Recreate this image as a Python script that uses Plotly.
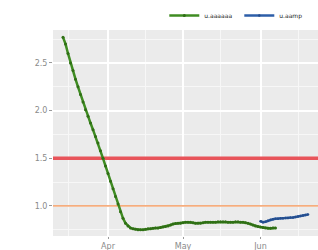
import plotly.graph_objects as go
import pandas as pd

# Green series (daily), starting 2020-03-14
green_start = "2020-03-14"
green_values = [
    2.77, 2.70, 2.60, 2.50, 2.42, 2.33, 2.25, 2.17, 2.09, 2.01,
    1.94, 1.87, 1.80, 1.73, 1.66, 1.58, 1.50, 1.42, 1.34, 1.26,
    1.18, 1.10, 1.02, 0.94, 0.87, 0.82, 0.79, 0.77, 0.76, 0.755,
    0.75, 0.75, 0.75, 0.755, 0.76, 0.76, 0.765, 0.77, 0.77, 0.775,
    0.78, 0.785, 0.79, 0.80, 0.81, 0.815, 0.82, 0.82, 0.825, 0.83,
    0.83, 0.83, 0.825, 0.82, 0.82, 0.82, 0.825, 0.83, 0.83, 0.83,
    0.83, 0.83, 0.835, 0.835, 0.835, 0.835, 0.83, 0.83, 0.83, 0.835,
    0.835, 0.83, 0.83, 0.825, 0.82, 0.81, 0.80, 0.79, 0.785, 0.78,
    0.775, 0.77, 0.765, 0.765, 0.77, 0.77,
]
green_name = "u.aaaaaa"

# Blue series (daily), starting 2020-06-01
blue_start = "2020-06-01"
blue_values = [
    0.84, 0.83, 0.835, 0.845, 0.855, 0.86, 0.865, 0.865, 0.87, 0.87,
    0.875, 0.875, 0.88, 0.88, 0.885, 0.89, 0.895, 0.90, 0.905, 0.91,
]
blue_name = "u.aamp"

# Threshold lines
red_level = 1.5
orange_level = 1.0

x_range = ["2020-03-10", "2020-06-24"]
y_ticks = [1.0, 1.5, 2.0, 2.5]
y_tick_labels = ["1.0", "1.5", "2.0", "2.5"]

green_dates = pd.date_range(green_start, periods=len(green_values), freq="D")
blue_dates = pd.date_range(blue_start, periods=len(blue_values), freq="D")

fig = go.Figure()
fig.add_trace(go.Scatter(x=x_range, y=[red_level, red_level], mode="lines",
                         line=dict(color="#e8545a", width=3.5),
                         showlegend=False, hoverinfo="skip"))
fig.add_trace(go.Scatter(x=x_range, y=[orange_level, orange_level], mode="lines",
                         line=dict(color="#f5ad7e", width=1.8),
                         showlegend=False, hoverinfo="skip"))

fig.add_trace(go.Scatter(
    x=green_dates, y=green_values, name=green_name, mode="lines+markers",
    line=dict(color="#3f8c22", width=2.5), marker=dict(size=3, color="#2f6e15"),
))
fig.add_trace(go.Scatter(
    x=blue_dates, y=blue_values, name=blue_name, mode="lines+markers",
    line=dict(color="#2d5ea8", width=2.5), marker=dict(size=2.5, color="#244d8c"),
))

fig.update_layout(
    width=318, height=250,
    margin=dict(l=53, r=0, t=30, b=14, autoexpand=False),
    paper_bgcolor="white", plot_bgcolor="#ebebeb",
    font=dict(family="DejaVu Sans", size=8, color="#8a8a8a"),
    showlegend=True,
    legend=dict(orientation="h", x=0.42, y=1.0, xanchor="left", yanchor="bottom",
                font=dict(size=6, color="#222222"), itemwidth=30,
                entrywidth=30, entrywidthmode="pixels",
                bgcolor="rgba(0,0,0,0)", tracegroupgap=0),
)
fig.update_xaxes(
    range=x_range,
    tickvals=["2020-04-01", "2020-05-01", "2020-06-01"],
    ticktext=["Apr", "May", "Jun"],
    showgrid=True, gridcolor="white", gridwidth=1.5,
    ticks="outside", ticklen=2, tickcolor="#9a9a9a",
    zeroline=False, showline=False,
    minor=dict(tickvals=["2020-03-16", "2020-04-16", "2020-05-16", "2020-06-16"],
               showgrid=True, gridcolor="#f7f7f7", gridwidth=0.8, ticks=""),
)
fig.update_yaxes(
    range=[0.685, 2.846],
    tickvals=y_ticks, ticktext=y_tick_labels,
    showgrid=True, gridcolor="white", gridwidth=1.5,
    ticks="outside", ticklen=3, tickcolor="#9a9a9a",
    zeroline=False, showline=False,
    minor=dict(tickvals=[0.75, 1.25, 1.75, 2.25, 2.75],
               showgrid=True, gridcolor="#f7f7f7", gridwidth=0.8, ticks=""),
)

fig.write_html(
    "out.html",
    config={"displayModeBar": False},
    post_script=("document.body.style.margin='0';"
                 "document.body.style.overflow='hidden';"
                 "document.documentElement.style.overflow='hidden';"),
)
